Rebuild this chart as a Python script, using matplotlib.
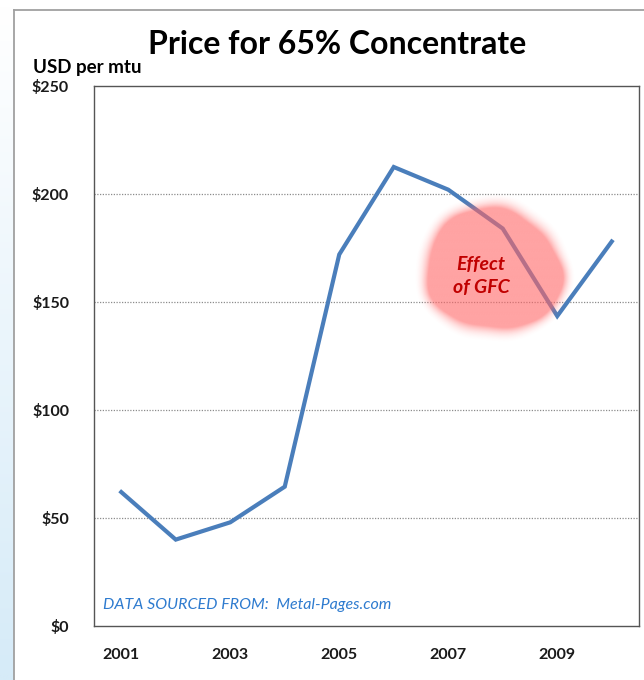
import numpy as np
import matplotlib
matplotlib.use("Agg")
import matplotlib.pyplot as plt
from matplotlib.colors import LinearSegmentedColormap

years = [2001, 2002, 2003, 2004, 2005, 2006, 2007, 2008, 2009, 2010]
prices = [62, 40, 48, 64.5, 172, 212.5, 202, 184, 143.5, 178]
xtick_years = [2001, 2003, 2005, 2007, 2009]
yticks = [0, 50, 100, 150, 200, 250]
ytick_labels = ["$0", "$50", "$100", "$150", "$200", "$250"]

W, H = 644, 680
fig = plt.figure(figsize=(W / 100, H / 100), dpi=100)
fig.patch.set_facecolor("white")

# left light-blue gradient strip and outer frame
bg = fig.add_axes([0, 0, 1, 1], zorder=-5)
bg.set_xlim(0, W)
bg.set_ylim(H, 0)
bg.axis("off")
grad = np.linspace(0, 1, 50).reshape(-1, 1) * np.ones((1, 10))
cmap_bg = LinearSegmentedColormap.from_list("b", ["#ffffff", "#d6ebf8"])
bg.imshow(grad, extent=[0, 14, H, 0], cmap=cmap_bg, aspect="auto")
bg.plot([14, 14], [10, H], color="#a0a0a0", lw=1.3)
bg.plot([14, W], [10, 10], color="#a0a0a0", lw=1.3)

left, right, top, bottom = 94, 639, 86, 626
ax = fig.add_axes([left / W, 1 - bottom / H, (right - left) / W, (bottom - top) / H])
ax.set_xlim(2000.5, 2010.5)
ax.set_ylim(0, 250)

for y in [50, 100, 150, 200]:
    ax.axhline(y, color="#8c8c8c", lw=0.9, ls=(0, (1, 1.2)), zorder=1)

ax.plot(years, prices, color="#4A7EBB", lw=3.0, zorder=3, solid_joinstyle="miter")

# soft pink blob
def px2data(px, py):
    return 2001 + (px - 120.7) / 54.6, (626 - py) / 2.16

nx, ny = 240, 200
x0p, x1p, y0p, y1p = 393, 593, 178, 358
xs = np.linspace(x0p, x1p, nx)
ys = np.linspace(y0p, y1p, ny)
X, Y = np.meshgrid(xs, ys)
centers = [(462, 236, 17), (500, 228, 18), (530, 250, 18), (548, 278, 14),
           (450, 262, 18), (445, 290, 15), (470, 305, 18), (508, 308, 18),
           (535, 300, 14), (492, 268, 30), (482, 245, 20), (520, 280, 22)]
F = np.zeros_like(X)
for cx, cy, r in centers:
    F += np.exp(-(((X - cx) ** 2 + (Y - cy) ** 2) / (2 * r ** 2)))
A = np.clip((F - 0.22) / 0.6, 0, 1)
A = (A ** 1.5) * 0.6
img = np.zeros((ny, nx, 4))
img[..., 0] = 1.0
img[..., 1] = 0.40
img[..., 2] = 0.40
img[..., 3] = A
dx0, dy0 = px2data(x0p, y1p)
dx1, dy1 = px2data(x1p, y0p)
ax.imshow(img, extent=[dx0, dx1, dy0, dy1], origin="upper", aspect="auto",
          zorder=4, interpolation="bilinear")
ax.set_xlim(2000.5, 2010.5)
ax.set_ylim(0, 250)

tx, ty = px2data(481, 276)
ax.text(tx, ty, "Effect\nof GFC", color="#C00000", fontsize=14, fontweight="bold",
        fontstyle="italic", family="Lato", ha="center", va="center",
        linespacing=1.4, zorder=5)

ax.text(0.016, 0.038, "DATA SOURCED FROM:  Metal-Pages.com", transform=ax.transAxes,
        color="#2E7BCF", fontsize=11.5, fontstyle="italic", family="Lato",
        ha="left", va="center", zorder=5)

for s in ax.spines.values():
    s.set_color("#555555")
    s.set_linewidth(1.0)

ax.set_xticks(xtick_years)
ax.set_xticklabels([str(y) for y in xtick_years])
ax.set_yticks(yticks)
ax.set_yticklabels(ytick_labels)
ax.tick_params(axis="both", length=0, labelsize=11.5, colors="#1a1a1a")
ax.tick_params(axis="x", pad=16)
ax.tick_params(axis="y", pad=18)
for lab in ax.get_xticklabels() + ax.get_yticklabels():
    lab.set_family("Lato")
    lab.set_fontweight("bold")
    lab.set_color("#1a1a1a")

fig.text(337 / W, 1 - 44 / H, "Price for 65% Concentrate", fontsize=23,
         fontweight="bold", family="Lato", ha="center", va="center", color="black")
fig.text(33 / W, 1 - 68 / H, "USD per mtu", fontsize=13.5, fontweight="bold",
         family="Lato", ha="left", va="center", color="black")

fig.savefig("out.png", dpi=100, facecolor="white")
